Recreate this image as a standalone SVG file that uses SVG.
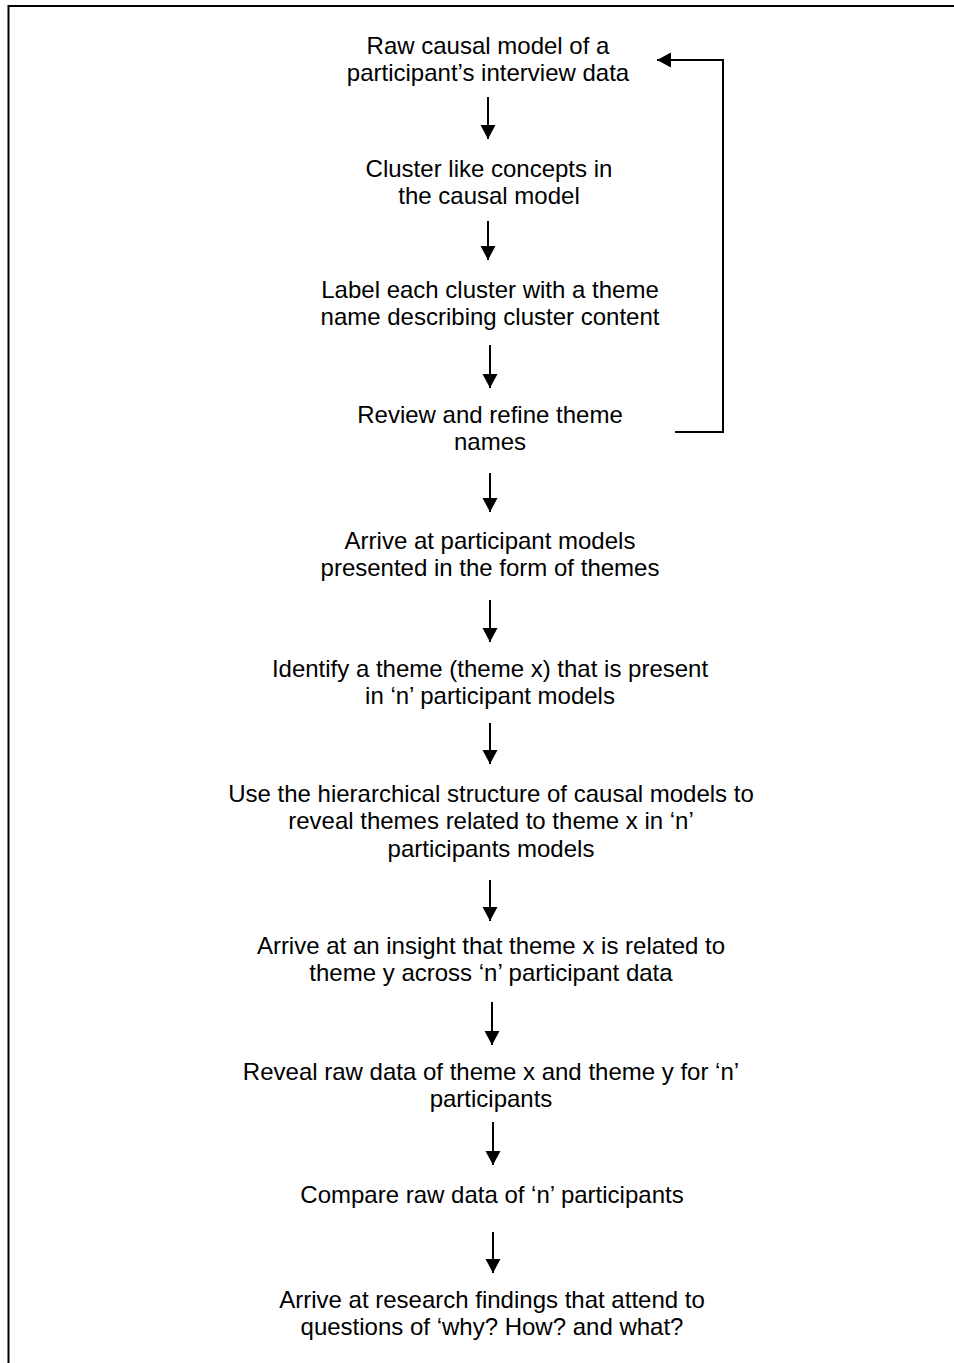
<svg xmlns="http://www.w3.org/2000/svg" width="954" height="1363" viewBox="0 0 954 1363">
  <style>
    .frame { stroke: #000; stroke-width: 2; fill: none; }
    .lbl { font-family: "Liberation Sans", Arial, sans-serif; font-size: 24px; fill: #000; text-anchor: middle; }
    .flow { stroke: #000; stroke-width: 2; fill: none; marker-end: url(#head); }
  </style>
  <defs>
    <marker id="head" markerUnits="userSpaceOnUse" markerWidth="16" markerHeight="16" viewBox="0 0 16 16" refX="14" refY="8" orient="auto">
      <path d="M0,0.5 L14,8 L0,15.5 Z" fill="#000"/>
    </marker>
  </defs>
  <rect width="954" height="1363" fill="#fff"/>

  <!-- open frame: top and left edges only -->
  <path class="frame" d="M8.5,1363 V6 H954"/>

  <g id="n1"><text class="lbl" x="488" y="54">Raw causal model of a</text><text class="lbl" x="488" y="81">participant’s interview data</text></g>
  <g id="n2"><text class="lbl" x="489" y="177">Cluster like concepts in</text><text class="lbl" x="489" y="204">the causal model</text></g>
  <g id="n3"><text class="lbl" x="490" y="298">Label each cluster with a theme</text><text class="lbl" x="490" y="325">name describing cluster content</text></g>
  <g id="n4"><text class="lbl" x="490" y="423">Review and refine theme</text><text class="lbl" x="490" y="450">names</text></g>
  <g id="n5"><text class="lbl" x="490" y="549">Arrive at participant models</text><text class="lbl" x="490" y="576">presented in the form of themes</text></g>
  <g id="n6"><text class="lbl" x="490" y="677">Identify a theme (theme x) that is present</text><text class="lbl" x="490" y="704">in ‘n’ participant models</text></g>
  <g id="n7"><text class="lbl" x="491" y="802">Use the hierarchical structure of causal models to</text><text class="lbl" x="491" y="829">reveal themes related to theme x in ‘n’</text><text class="lbl" x="491" y="857">participants models</text></g>
  <g id="n8"><text class="lbl" x="491" y="954">Arrive at an insight that theme x is related to</text><text class="lbl" x="491" y="981">theme y across ‘n’ participant data</text></g>
  <g id="n9"><text class="lbl" x="491" y="1080">Reveal raw data of theme x and theme y for ‘n’</text><text class="lbl" x="491" y="1107">participants</text></g>
  <g id="n10"><text class="lbl" x="492" y="1203">Compare raw data of ‘n’ participants</text></g>
  <g id="n11"><text class="lbl" x="492" y="1308">Arrive at research findings that attend to</text><text class="lbl" x="492" y="1335">questions of ‘why? How? and what?</text></g>

  <g id="connectors">
    <path class="flow" d="M488,97 V139"/>
    <path class="flow" d="M488,221 V260"/>
    <path class="flow" d="M490,345 V388"/>
    <path class="flow" d="M490,473 V512"/>
    <path class="flow" d="M490,600 V642"/>
    <path class="flow" d="M490,723 V764"/>
    <path class="flow" d="M490,880 V921"/>
    <path class="flow" d="M492,1002 V1045"/>
    <path class="flow" d="M493,1122 V1165"/>
    <path class="flow" d="M493,1232 V1273"/>
    <!-- feedback loop back to the first step -->
    <path class="flow" d="M675,432 H723 V60 H657"/>
  </g>
</svg>
